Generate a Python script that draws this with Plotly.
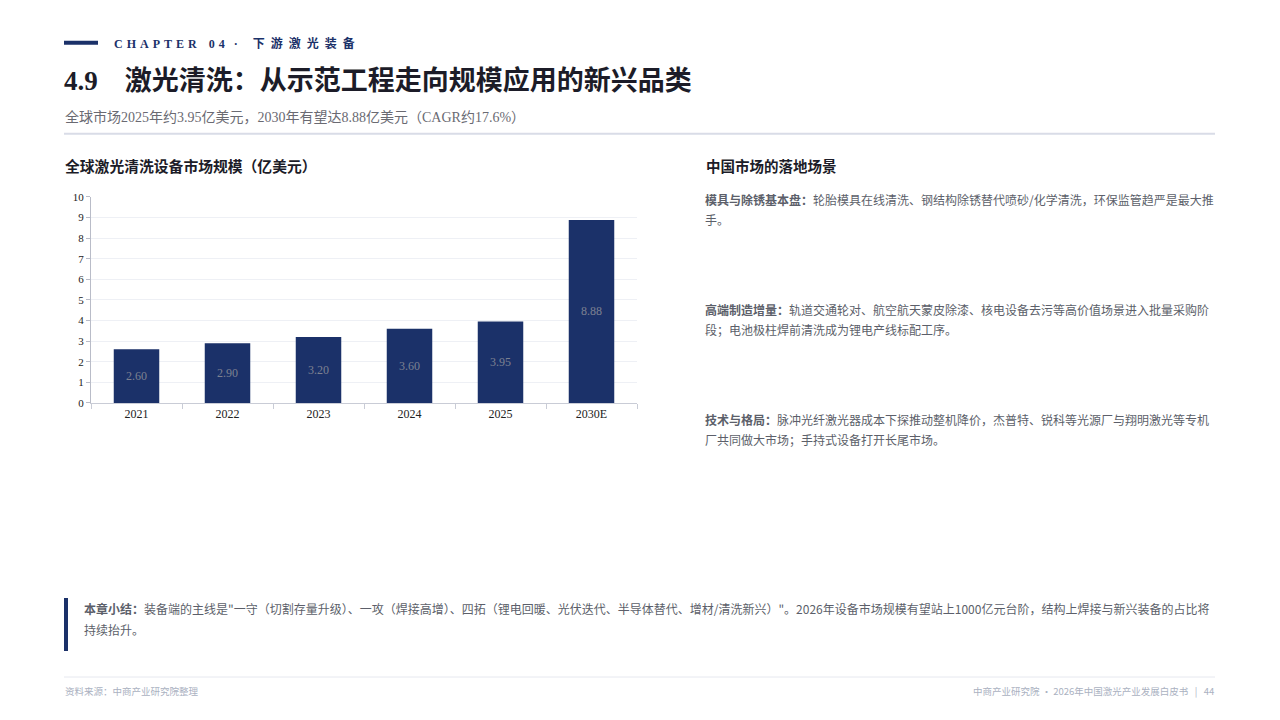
import plotly.graph_objects as go

# data
years = ["2021", "2022", "2023", "2024", "2025", "2030E"]
market_size = [2.60, 2.90, 3.20, 3.60, 3.95, 8.88]
y_ticks = [0, 1, 2, 3, 4, 5, 6, 7, 8, 9, 10]

NAVY = "#1b3169"
SERIF = "Liberation Serif, Noto Sans CJK SC"
SANS = "Noto Sans CJK SC, Noto Sans"

W, H = 1280, 720


def px(x):
    return x / W


def py(y):
    # small vertical calibration for the page capture
    y = (y - 5.2) / 0.983
    return 1 - y / H


fig = go.Figure(go.Bar(
    x=years,
    y=market_size,
    marker=dict(color=NAVY, line=dict(width=0)),
    text=[f"{v:.2f}" for v in market_size],
    textposition="inside",
    insidetextanchor="middle",
    textfont=dict(family=SERIF, size=12, color="#7d8191"),
    hoverinfo="x+y",
))

fig.update_layout(
    width=W, height=H,
    margin=dict(t=0, l=0, r=0, b=0),
    paper_bgcolor="white", plot_bgcolor="white",
    showlegend=False,
    bargap=0.5,
    xaxis=dict(
        domain=[px(91), px(637)],
        showline=True, linecolor="#c9ccd6", linewidth=1,
        ticks="outside", tickson="boundaries", ticklen=5, tickcolor="#c9ccd6",
        tickfont=dict(family=SERIF, size=12, color="#222"),
        showgrid=False,
    ),
    yaxis=dict(
        domain=[py(402), py(196)],
        range=[0, 10], tickvals=y_ticks,
        showline=True, linecolor="#b9bcc8", linewidth=1,
        ticks="outside", ticklen=4, tickcolor="#b9bcc8",
        tickfont=dict(family=SERIF, size=11, color="#222"),
        showgrid=True, gridcolor="#eef0f5", gridwidth=1,
        zeroline=False,
    ),
)

shapes = [
    # chapter marker
    dict(type="rect", xref="paper", yref="paper", x0=px(64), x1=px(98), y0=py(44), y1=py(40),
         fillcolor=NAVY, line=dict(width=0)),
    # header separator
    dict(type="line", xref="paper", yref="paper", x0=px(64), x1=px(1215), y0=py(133), y1=py(133),
         line=dict(color="#d9dce7", width=2)),
    # summary bar
    dict(type="rect", xref="paper", yref="paper", x0=px(64), x1=px(68), y0=py(650), y1=py(597),
         fillcolor=NAVY, line=dict(width=0)),
    # footer line
    dict(type="line", xref="paper", yref="paper", x0=px(64), x1=px(1215), y0=py(676), y1=py(676),
         line=dict(color="#e6e8ef", width=1)),
]
fig.update_layout(shapes=shapes)


def note(x, y, text, size, color, family=SANS, xanchor="left"):
    fig.add_annotation(x=px(x), y=py(y), xref="paper", yref="paper", text=text,
                       showarrow=False, xanchor=xanchor, yanchor="middle", align="left",
                       font=dict(family=family, size=size, color=color))


sp = "&nbsp;"
gap = "&nbsp;&#8202;"
chapter = (gap.join("CHAPTER") + sp * 4 + gap.join("04") + sp * 3 + "·" + sp * 5
           + (sp * 2).join("下游激光装备"))
note(112, 43, f"<b>{chapter}</b>", 12, NAVY, SERIF)
note(62, 80, "<b>4.9&nbsp;&nbsp;&nbsp;&nbsp;激光清洗：从示范工程走向规模应用的新兴品类</b>", 27, "#1c1c28", SERIF)
note(63, 116, "全球市场2025年约3.95亿美元，2030年有望达8.88亿美元（CAGR约17.6%）", 14, "#6a6a72", SERIF)

note(63, 165, "<b>全球激光清洗设备市场规模（亿美元）</b>", 14.8, "#1c1c28")
note(704, 165, "<b>中国市场的落地场景</b>", 14.5, "#1c1c28")

BODY = "#5c5f6a"
paras = [
    (199, "模具与除锈基本盘：", "轮胎模具在线清洗、钢结构除锈替代喷砂/化学清洗，环保监管趋严是最大推", "手。"),
    (309, "高端制造增量：", "轨道交通轮对、航空航天蒙皮除漆、核电设备去污等高价值场景进入批量采购阶",
     "段；电池极柱焊前清洗成为锂电产线标配工序。"),
    (419, "技术与格局：", "脉冲光纤激光器成本下探推动整机降价，杰普特、锐科等光源厂与翔明激光等专机",
     "厂共同做大市场；手持式设备打开长尾市场。"),
]
for y, head, line1, line2 in paras:
    note(703, y, f"<b>{head}</b>{line1}", 12, BODY)
    note(703, y + 20, line2, 12, BODY)

note(82, 607, "<b>本章小结：</b>装备端的主线是\"一守（切割存量升级）、一攻（焊接高增）、四拓（锂电回暖、光伏迭代、半导体替代、增材/清洗新兴）\"。"
     "2026年设备市场规模有望站上1000亿元台阶，结构上焊接与新兴装备的占比将", 12, BODY)
note(82, 628, "持续抬升。", 12, BODY)

note(63, 690, "资料来源：中商产业研究院整理", 9.5, "#aab1c1")
note(1216, 690, "中商产业研究院 · 2026年中国激光产业发展白皮书&nbsp;&nbsp;&nbsp;|&nbsp;&nbsp;&nbsp;44", 9.5, "#aab1c1",
     xanchor="right")

fig.write_html(
    "out.html",
    config={"displayModeBar": False},
    post_script="document.body.style.margin='0';document.body.style.overflow='hidden';",
)
